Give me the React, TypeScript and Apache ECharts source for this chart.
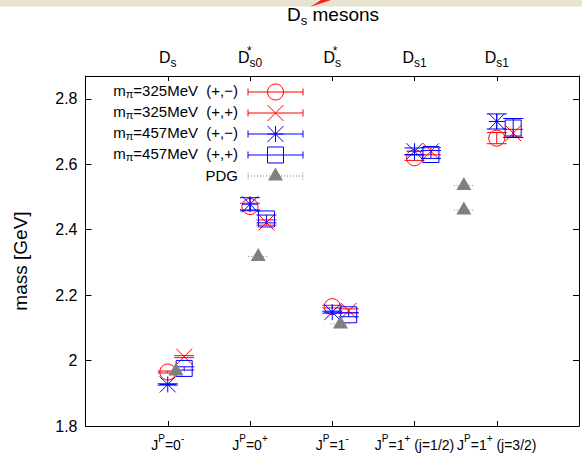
import React, { useEffect, useRef } from 'react';
import * as echarts from 'echarts';

const FONT = "'Liberation Sans', Arial, Helvetica, sans-serif";
const RED = '#ff0000';
const BLUE = '#0000ff';
const GREY = '#808080';

// category positions on the x axis
const categoryX = [1, 2, 3, 4, 5];
const topLabels = [
  '{m|D}{sub|s}',
  '{m|D}{st|*}{sub|s0}',
  '{m|D}{st|*}{sub|s}',
  '{m|D}{sub|s1}',
  '{m|D}{sub|s1}',
];
const bottomLabels = [
  '{m|J}{sup|P}{m|=0}{sup|-}',
  '{m|J}{sup|P}{m|=0}{sup|+}',
  '{m|J}{sup|P}{m|=1}{sup|-}',
  '{m|J}{sup|P}{m|=1}{sup|+}{m| (j=1/2)}',
  '{m|J}{sup|P}{m|=1}{sup|+}{m| (j=3/2)}',
];

// series values (GeV) and errors
const mass325PM = [1.965, 2.471, 2.165, 2.62, 2.68];
const err325PM = [0.003, 0.01, 0.004, 0.008, 0.017];
const mass325PP = [2.012, 2.422, 2.152, 2.64, 2.695];
const err325PP = [0.003, 0.008, 0.006, 0.011, 0.012];
const mass457PM = [1.927, 2.478, 2.148, 2.64, 2.731];
const err457PM = [0.002, 0.02, 0.003, 0.01, 0.023];
const mass457PP = [1.976, 2.433, 2.14, 2.63, 2.711];
const err457PP = [0.005, 0.012, 0.006, 0.012, 0.029];
const pdgX = [1.1, 2.1, 3.1, 4.6, 4.6];
const pdgMass = [1.968, 2.318, 2.112, 2.46, 2.535];

const legendLabels = [
  '{m|m}{sub|π}{m|=325MeV  (+,−)}',
  '{m|m}{sub|π}{m|=325MeV  (+,+)}',
  '{m|m}{sub|π}{m|=457MeV  (+,−)}',
  '{m|m}{sub|π}{m|=457MeV  (+,+)}',
  '{m|PDG}',
];

const OFFSET_PM = 0;
const OFFSET_PP = 0.2;

function symbolEls(kind: string, cx: number, cy: number, color: string): any[] {
  const st = { stroke: color, fill: 'none', lineWidth: 1 };
  const s = 8;
  const ln = (x1: number, y1: number, x2: number, y2: number) => ({
    type: 'line',
    shape: { x1, y1, x2, y2 },
    style: st,
  });
  switch (kind) {
    case 'circle':
      return [{ type: 'circle', shape: { cx, cy, r: s }, style: st }];
    case 'cross':
      return [ln(cx - s, cy - s, cx + s, cy + s), ln(cx - s, cy + s, cx + s, cy - s)];
    case 'star':
      return [
        ln(cx - s, cy - s, cx + s, cy + s),
        ln(cx - s, cy + s, cx + s, cy - s),
        ln(cx - s, cy, cx + s, cy),
        ln(cx, cy - s, cx, cy + s),
      ];
    case 'square':
      return [{ type: 'rect', shape: { x: cx - s, y: cy - s, width: 2 * s, height: 2 * s }, style: st }];
    case 'triangle':
      return [
        {
          type: 'polygon',
          shape: { points: [[cx, cy - 8.5], [cx - 7.5, cy + 4.5], [cx + 7.5, cy + 4.5]] },
          style: { fill: color, stroke: 'none' },
        },
      ];
  }
  return [];
}

function errEls(cx: number, yTop: number, yBot: number, color: string): any[] {
  const st = { stroke: color, lineWidth: 1 };
  const cap = 10;
  return [
    { type: 'line', shape: { x1: cx, y1: yTop, x2: cx, y2: yBot }, style: st },
    { type: 'line', shape: { x1: cx - cap, y1: yTop, x2: cx + cap, y2: yTop }, style: st },
    { type: 'line', shape: { x1: cx - cap, y1: yBot, x2: cx + cap, y2: yBot }, style: st },
  ];
}

function mkSeries(name: string, offset: number, ys: number[], es: number[], color: string, kind: string) {
  return {
    type: 'custom',
    name,
    silent: true,
    encode: { x: 0, y: 1 },
    data: categoryX.map((x, i) => [x + offset, ys[i], es[i]]),
    renderItem: (params: any, api: any) => {
      const x = api.value(0);
      const y = api.value(1);
      const e = api.value(2);
      const c = api.coord([x, y]);
      const t = api.coord([x, y + e]);
      const b = api.coord([x, y - e]);
      return {
        type: 'group',
        children: [...errEls(c[0], t[1], b[1], color), ...symbolEls(kind, c[0], c[1], color)],
      };
    },
  };
}

const pdgSeries = {
  type: 'custom',
  name: 'PDG',
  silent: true,
  encode: { x: 0, y: 1 },
  data: pdgX.map((x, i) => [x, pdgMass[i]]),
  renderItem: (params: any, api: any) => {
    const c = api.coord([api.value(0), api.value(1)]);
    return {
      type: 'group',
      children: [
        {
          type: 'line',
          shape: { x1: c[0] - 10, y1: c[1], x2: c[0] + 10, y2: c[1] },
          style: { stroke: GREY, lineWidth: 1, lineDash: [1, 2] },
        },
        ...symbolEls('triangle', c[0], c[1], GREY),
      ],
    };
  },
};

const legendKinds = ['circle', 'cross', 'star', 'square', 'triangle'];
const legendColors = [RED, RED, BLUE, BLUE, GREY];

function legendGraphics(): any[] {
  const out: any[] = [];
  const x0 = 248;
  const x1 = 303;
  const cx = (x0 + x1) / 2;
  legendLabels.forEach((lab, i) => {
    const y = 92 + 21 * i;
    const color = legendColors[i];
    out.push({
      type: 'text',
      x: 238,
      y: y - 1,
      silent: true,
      style: {
        text: lab,
        align: 'right',
        verticalAlign: 'middle',
        fill: '#000',
        fontSize: 15,
        fontFamily: FONT,
        rich: {
          m: { fontSize: 15, fontFamily: FONT, fill: '#000', color: '#000', verticalAlign: 'top', padding: [0, 0, 0, 0] },
          sub: { fontSize: 11, fontFamily: FONT, fill: '#000', color: '#000', verticalAlign: 'top', padding: [5, 0, 0, 0] },
        },
      },
    });
    const isPdg = i === 4;
    const lst: any = isPdg ? { stroke: GREY, lineWidth: 1, lineDash: [1, 2] } : { stroke: color, lineWidth: 1 };
    out.push({ type: 'line', silent: true, shape: { x1: x0, y1: y, x2: x1, y2: y }, style: lst });
    out.push({ type: 'line', silent: true, shape: { x1: x0, y1: y - 3.5, x2: x0, y2: y + 3.5 }, style: lst });
    out.push({ type: 'line', silent: true, shape: { x1: x1, y1: y - 3.5, x2: x1, y2: y + 3.5 }, style: lst });
    symbolEls(legendKinds[i], cx, y, color).forEach((el) => out.push({ ...el, silent: true }));
  });
  return out;
}

export default function App() {
  const ref = useRef<HTMLDivElement>(null);
  useEffect(() => {
    if (!ref.current) return;
    const chart = echarts.init(ref.current, undefined, { renderer: 'svg' });
    const axisLineStyle = { color: '#000', width: 1 };
    const xBase = {
      type: 'value',
      min: 0,
      max: 6,
      interval: 1,
      axisLine: { show: true, onZero: false, lineStyle: axisLineStyle },
      axisTick: { show: true, inside: true, length: 5, lineStyle: axisLineStyle },
      splitLine: { show: false },
    };
    const yBase = {
      type: 'value',
      min: 1.8,
      max: 2.87,
      interval: 0.2,
      axisLine: { show: true, onZero: false, lineStyle: axisLineStyle },
      axisTick: { show: true, inside: true, length: 6, lineStyle: axisLineStyle },
      splitLine: { show: false },
    };
    const option: any = {
      animation: false,
      backgroundColor: '#fff',
      title: {
        text: '{m|D}{sub|s}{m| mesons}',
        left: 287,
        top: 5,
        padding: 0,
        textStyle: {
          fontFamily: FONT,
          fontWeight: 'normal',
          color: '#000',
          rich: {
            m: { fontSize: 19, fontFamily: FONT, color: '#000', verticalAlign: 'top', padding: [0, 0, 0, 0] },
            sub: { fontSize: 13, fontFamily: FONT, color: '#000', verticalAlign: 'top', padding: [9, 0, 0, 0] },
          },
        },
      },
      grid: { left: 85.5, right: -1.5, top: 76, bottom: 27, containLabel: false },
      xAxis: [
        {
          ...xBase,
          position: 'bottom',
          axisLabel: {
            margin: 7,
            verticalAlign: 'top',
            formatter: (v: number) => {
              const i = categoryX.indexOf(Math.round(v));
              return i >= 0 && Math.abs(v - Math.round(v)) < 1e-6 ? bottomLabels[i] : '';
            },
            rich: {
              m: { fontSize: 14, fontFamily: FONT, color: '#000', verticalAlign: 'top', padding: [5, 0, 0, 0] },
              sup: { fontSize: 10, fontFamily: FONT, color: '#000', verticalAlign: 'top', padding: [0, 0, 0, 0] },
            },
          },
        },
        {
          ...xBase,
          position: 'top',
          axisLabel: {
            margin: 7,
            verticalAlign: 'bottom',
            formatter: (v: number) => {
              const i = categoryX.indexOf(Math.round(v));
              return i >= 0 && Math.abs(v - Math.round(v)) < 1e-6 ? topLabels[i] : '';
            },
            rich: {
              m: { fontSize: 16, fontFamily: FONT, color: '#000', verticalAlign: 'top', padding: [6, 0, 0, 0] },
              sub: { fontSize: 12, fontFamily: FONT, color: '#000', verticalAlign: 'top', padding: [14, 0, 0, 0] },
              st: { fontSize: 12, fontFamily: FONT, color: '#000', verticalAlign: 'top', padding: [1.5, 0, 0, 0], width: 0 },
            },
          },
        },
      ],
      yAxis: [
        {
          ...yBase,
          position: 'left',
          axisLabel: {
            margin: 8,
            fontSize: 16,
            fontFamily: FONT,
            color: '#000',
            showMaxLabel: false,
            formatter: (v: number) =>
              Math.abs(v * 5 - Math.round(v * 5)) < 1e-6 ? String(Number(v.toFixed(1))) : '',
          },
        },
        {
          ...yBase,
          position: 'right',
          axisLabel: { show: false },
        },
      ],
      graphic: [
        { type: 'rect', silent: true, shape: { x: 0, y: 0, width: 582, height: 6.5 }, style: { fill: '#e6e4d0' } },
        {
          type: 'polygon',
          silent: true,
          shape: { points: [[310, 7], [321, 0], [331, 0]] },
          style: { fill: '#ff1a1a' },
        },
        {
          type: 'text',
          silent: true,
          x: 20,
          y: 261,
          rotation: Math.PI / 2,
          style: {
            text: 'mass [GeV]',
            align: 'center',
            verticalAlign: 'middle',
            fontSize: 19,
            fontFamily: FONT,
            fill: '#000',
          },
        },
        ...legendGraphics(),
      ],
      series: [
        mkSeries('m325 (+,-)', OFFSET_PM, mass325PM, err325PM, RED, 'circle'),
        mkSeries('m325 (+,+)', OFFSET_PP, mass325PP, err325PP, RED, 'cross'),
        mkSeries('m457 (+,-)', OFFSET_PM, mass457PM, err457PM, BLUE, 'star'),
        mkSeries('m457 (+,+)', OFFSET_PP, mass457PP, err457PP, BLUE, 'square'),
        pdgSeries,
      ],
    };
    chart.setOption(option);
    return () => chart.dispose();
  }, []);
  return (
    <div
      ref={ref}
      style={{ position: 'fixed', left: 0, top: 0, width: 582, height: 453, background: '#fff' }}
    />
  );
}
